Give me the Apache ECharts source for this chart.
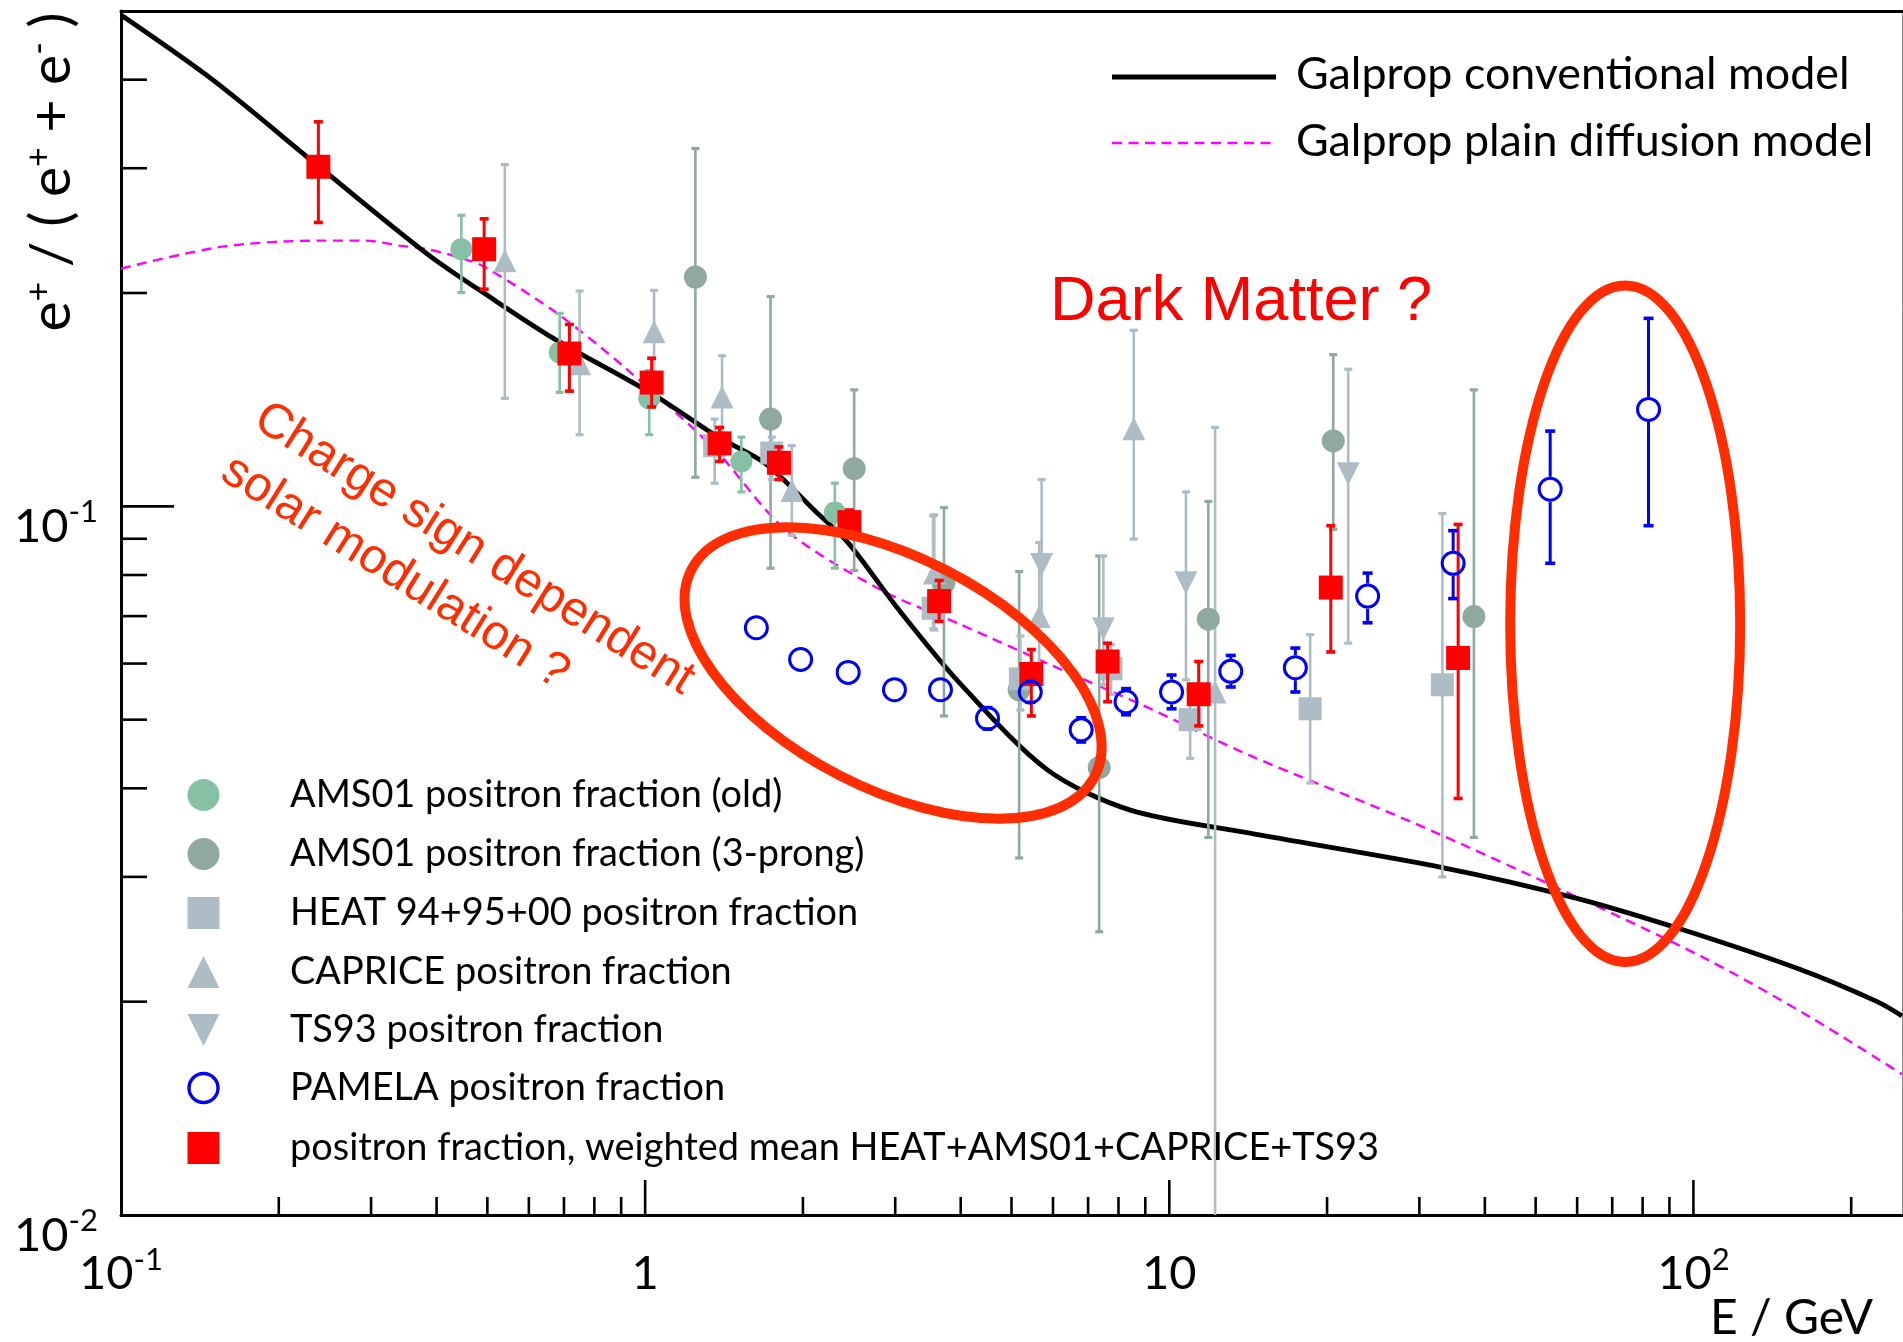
<!DOCTYPE html>
<html>
<head>
<meta charset="utf-8">
<title>Positron fraction</title>
<script src="https://cdn.jsdelivr.net/npm/echarts@6/dist/echarts.min.js"></script>
<style>
html,body{margin:0;padding:0;background:#ffffff;}
#chart{width:1903px;height:1342px;}
</style>
</head>
<body>
<div id="chart"></div>
<script>
// ---------------- model curves ----------------
const convE  = [0.1, 0.1501, 0.2388, 0.3842, 0.504, 0.6721, 1.029, 1.38, 1.698, 2.113, 2.44, 3.019, 3.983, 5.846, 8.398, 14.16, 33.38, 59.65, 94.82, 158.1, 223.6, 250];
const convF  = [0.4934, 0.399, 0.3015, 0.227, 0.1977, 0.1722, 0.1443, 0.1252, 0.1148, 0.0984, 0.0888, 0.0721, 0.0563, 0.0425, 0.0373, 0.0346, 0.0309, 0.028, 0.0253, 0.02227, 0.02002, 0.0191];
const plainE = [0.1, 0.1561, 0.2403, 0.2927, 0.3398, 0.3842, 0.4508, 0.4959, 0.6792, 0.9106, 1.357, 1.849, 2.818, 3.983, 6.265, 9.0, 14.16, 29.37, 59.97, 105.5, 166.8, 250];
const plainF = [0.2165, 0.2325, 0.2371, 0.2371, 0.2333, 0.2306, 0.2235, 0.2174, 0.1872, 0.1574, 0.1204, 0.0928, 0.0762, 0.0682, 0.0587, 0.0522, 0.0446, 0.0357, 0.0281, 0.023, 0.01903, 0.0158];

// ---------------- measurements (E, value, lower, upper) ----------------
const oldE  = [0.446, 0.687, 1.018, 1.526, 2.301];
const oldF  = [0.2306, 0.1649, 0.1420, 0.1157, 0.0980];
const oldLo = [0.2003, 0.1448, 0.1262, 0.1048, 0.0818];
const oldHi = [0.2575, 0.1872, 0.1555, 0.1252, 0.1078];

const prE  = [1.247, 1.735, 2.505, 3.716, 5.171, 7.35, 11.87, 20.55, 38.12];
const prF  = [0.2106, 0.1328, 0.1130, 0.0780, 0.0551, 0.0428, 0.0693, 0.1237, 0.0699];
const prLo = [0.1099, 0.0818, 0.0812, 0.0506, 0.0319, 0.0251, 0.0341, 0.0928, 0.0341];
const prHi = [0.3199, 0.1977, 0.1460, 0.0996, 0.0809, 0.0851, 0.1016, 0.1637, 0.1460];

const heatE  = [1.357, 1.744, 3.543, 5.199, 7.744, 10.96, 18.57, 33.19];
const heatF  = [0.1218, 0.1189, 0.0718, 0.0571, 0.0590, 0.0500, 0.0518, 0.0560];
const heatLo = [0.1078, 0.1091, 0.0672, 0.0516, 0.0543, 0.0441, 0.0407, 0.0300];
const heatHi = [0.1328, 0.1252, 0.0969, 0.0656, 0.0638, 0.0551, 0.0659, 0.0977];

const capE  = [0.540, 0.7497, 1.040, 1.402, 1.905, 3.562, 5.646, 8.556, 12.23];
const capF  = [0.2221, 0.1589, 0.1764, 0.1426, 0.1053, 0.0805, 0.0699, 0.1287, 0.0547];
const capLo = [0.1420, 0.1262, 0.1409, 0.1227, 0.0910, 0.0669, 0.0569, 0.0899, 0.009];
const capHi = [0.3036, 0.2013, 0.2017, 0.1631, 0.1218, 0.0973, 0.0889, 0.1772, 0.1292];

const tsE  = [5.707, 7.486, 10.76, 21.95];
const tsF  = [0.0828, 0.0672, 0.0780, 0.1112];
const tsLo = [0.0693, 0.0560, 0.0569, 0.0641];
const tsHi = [0.1091, 0.0851, 0.1048, 0.1561];

const pamE  = [1.63, 1.98, 2.44, 2.99, 3.66, 4.50, 5.43, 6.79, 8.27, 10.1, 13.1, 17.4, 23.9, 34.8, 53.3, 82.1];
const pamF  = [0.0674, 0.0608, 0.0583, 0.0551, 0.0551, 0.0502, 0.0547, 0.0484, 0.0530, 0.0547, 0.0585, 0.0592, 0.0747, 0.0831, 0.1057, 0.1370];
const pamLo = [0.0664, 0.0599, 0.0575, 0.0544, 0.0544, 0.0485, 0.0529, 0.0465, 0.0508, 0.0518, 0.0556, 0.0547, 0.0685, 0.0741, 0.0831, 0.0939];
const pamHi = [0.0684, 0.0617, 0.0591, 0.0558, 0.0558, 0.0520, 0.0566, 0.0503, 0.0553, 0.0578, 0.0616, 0.0631, 0.0805, 0.0924, 0.1277, 0.1842];

const wmE  = [0.238, 0.493, 0.717, 1.029, 1.387, 1.800, 2.453, 3.638, 5.455, 7.627, 11.38, 20.33, 35.57];
const wmF  = [0.3014, 0.2306, 0.1643, 0.1495, 0.1227, 0.1152, 0.0950, 0.0735, 0.0580, 0.0604, 0.0543, 0.0768, 0.0611];
const wmLo = [0.2515, 0.2025, 0.1454, 0.1381, 0.1157, 0.1091, 0.0906, 0.0688, 0.0506, 0.0530, 0.0490, 0.0623, 0.0387];
const wmHi = [0.3488, 0.2545, 0.1806, 0.1618, 0.1292, 0.1213, 0.0988, 0.0786, 0.0628, 0.0641, 0.0604, 0.0939, 0.0943];

// ---------------- axes / ticks / labels ----------------
const X_MIN = 0.1, X_MAX = 250, Y_MIN = 0.01, Y_MAX = 0.5;
const xMajorTicks = [1, 10, 100];
const xMinorTicks = [0.2,0.3,0.4,0.5,0.6,0.7,0.8,0.9, 2,3,4,5,6,7,8,9, 20,30,40,50,60,70,80,90, 200];
const yMajorTicks = [0.1];
const yMinorTicks = [0.02,0.03,0.04,0.05,0.06,0.07,0.08,0.09, 0.2,0.3,0.4];
const xTickLabels = {'-1': '{b|10}{s|-1}', '0': '{b|1}', '1': '{b|10}', '2': '{b|10}{s|2}'};
const yTickLabels = {'-2': '{b|10}{s|-2}', '-1': '{b|10}{s|-1}'};

const legendLines = ['Galprop conventional model', 'Galprop plain diffusion model'];
const legendPoints = ['AMS01 positron fraction (old)', 'AMS01 positron fraction (3-prong)', 'HEAT 94+95+00 positron fraction',
  'CAPRICE positron fraction', 'TS93 positron fraction', 'PAMELA positron fraction',
  'positron fraction, weighted mean HEAT+AMS01+CAPRICE+TS93'];

// ---------------- styles ----------------
const C_MINT = '#86c1a5', C_SAGE = '#8fa8a0', C_SLATE = '#aebcc6', C_BLUE = '#0000ff', C_RED = '#ff0000', C_ANN = '#ff2d00';
const MYR = 'Lato', ARIAL = '"Liberation Sans", Arial, sans-serif';

const _ctx = document.createElement('canvas').getContext('2d');
function fitSize(text, family, target) { _ctx.font = '100px ' + family; return 100 * target / _ctx.measureText(text).width; }

function zip2(E, F) { return E.map((e, i) => [e, F[i]]); }
function zip4(E, F, L, H) { return E.map((e, i) => [e, F[i], L[i], H[i]]); }

function errorBars(data, color, lw, capW, gapR, z) {
  return {
    type: 'custom', silent: true, z: z, data: data, encode: {x: 0, y: 1},
    renderItem: function (params, api) {
      const x = api.value(0), y = api.value(1);
      let lo = api.value(2), hi = api.value(3);
      const loClip = lo < Y_MIN, hiClip = hi > Y_MAX;
      lo = Math.max(lo, Y_MIN); hi = Math.min(hi, Y_MAX);
      const p = api.coord([x, y]), pl = api.coord([x, lo]), ph = api.coord([x, hi]);
      const st = {stroke: color, lineWidth: lw};
      const ch = [];
      if (gapR > 0) {
        if (p[1] - gapR > ph[1]) ch.push({type: 'line', shape: {x1: p[0], y1: ph[1], x2: p[0], y2: p[1] - gapR}, style: st});
        if (p[1] + gapR < pl[1]) ch.push({type: 'line', shape: {x1: p[0], y1: p[1] + gapR, x2: p[0], y2: pl[1]}, style: st});
      } else {
        ch.push({type: 'line', shape: {x1: p[0], y1: ph[1], x2: p[0], y2: pl[1]}, style: st});
      }
      const cs = {stroke: color, lineWidth: lw + 0.6};
      const minOff = gapR * 0.6;
      if (!hiClip && p[1] - ph[1] > minOff) ch.push({type: 'line', shape: {x1: p[0] - capW / 2, y1: ph[1], x2: p[0] + capW / 2, y2: ph[1]}, style: cs});
      if (!loClip && pl[1] - p[1] > minOff) ch.push({type: 'line', shape: {x1: p[0] - capW / 2, y1: pl[1], x2: p[0] + capW / 2, y2: pl[1]}, style: cs});
      return {type: 'group', children: ch};
    }
  };
}
function markers(data, symbol, size, itemStyle, z) {
  return {type: 'scatter', silent: true, z: z, data: data.map(d => [d[0], d[1]]), symbol: symbol, symbolSize: size,
    itemStyle: Object.assign({opacity: 1}, itemStyle)};
}
function tickSeries(values, major, isX) {
  return {
    type: 'custom', silent: true, z: 20,
    data: values.map(v => isX ? [v, Y_MIN] : [X_MIN, v]), encode: {x: 0, y: 1},
    renderItem: function (params, api) {
      const p = api.coord([api.value(0), api.value(1)]);
      const len = isX ? (major ? 35 : 18) : (major ? 53 : 26);
      const shape = isX ? {x1: p[0], y1: p[1], x2: p[0], y2: p[1] - len} : {x1: p[0], y1: p[1], x2: p[0] + len, y2: p[1]};
      return {type: 'line', shape: shape, style: {stroke: '#000', lineWidth: 2.6}};
    }
  };
}

const tickRich = {
  b: {fontFamily: MYR, fontSize: 47, lineHeight: 60, color: '#000'},
  s: {fontFamily: MYR, fontSize: 31, lineHeight: 17, verticalAlign: 'top', color: '#000'}
};
function lgKey(v) { const l = Math.log10(v); const r = Math.round(l); return Math.abs(l - r) < 1e-6 ? String(r) : null; }

const DOWN_TRI = 'path://M0,0L10,0L5,10Z';

const dOld = zip4(oldE, oldF, oldLo, oldHi), dPr = zip4(prE, prF, prLo, prHi), dHeat = zip4(heatE, heatF, heatLo, heatHi),
      dCap = zip4(capE, capF, capLo, capHi), dTs = zip4(tsE, tsF, tsLo, tsHi), dPam = zip4(pamE, pamF, pamLo, pamHi),
      dWm = zip4(wmE, wmF, wmLo, wmHi);

const chart = echarts.init(document.getElementById('chart'), null, {renderer: 'canvas'});
const option = {
  animation: false,
  backgroundColor: '#ffffff',
  grid: {left: 121, right: 1, top: 11, bottom: 127, containLabel: false},
  xAxis: [{
    type: 'log', logBase: 10, min: X_MIN, max: X_MAX, position: 'bottom',
    axisLine: {show: true, lineStyle: {color: '#000', width: 3}},
    axisTick: {show: false}, splitLine: {show: false}, minorTick: {show: false},
    axisLabel: {margin: 29, showMaxLabel: false, rich: tickRich,
      formatter: v => { const k = lgKey(v); return k !== null && xTickLabels[k] ? xTickLabels[k] : ''; }}
  }, {
    type: 'log', logBase: 10, min: X_MIN, max: X_MAX, position: 'top',
    axisLine: {show: true, lineStyle: {color: '#000', width: 3}},
    axisTick: {show: false}, axisLabel: {show: false}, splitLine: {show: false}
  }],
  yAxis: [{
    type: 'log', logBase: 10, min: Y_MIN, max: Y_MAX, position: 'left',
    axisLine: {show: true, lineStyle: {color: '#000', width: 3}},
    axisTick: {show: false}, splitLine: {show: false},
    axisLabel: {margin: 23, showMaxLabel: false, rich: tickRich, verticalAlign: 'middle', padding: [41, 0, 0, 0],
      formatter: v => { const k = lgKey(v); return k !== null && yTickLabels[k] ? yTickLabels[k] : ''; }}
  }, {
    type: 'log', logBase: 10, min: Y_MIN, max: Y_MAX, position: 'right',
    axisLine: {show: true, lineStyle: {color: '#8a8a8a', width: 1}},
    axisTick: {show: false}, axisLabel: {show: false}, splitLine: {show: false}
  }],
  series: [
    {type: 'line', silent: true, z: 3, data: zip2(plainE, plainF), symbol: 'none', smooth: 0.3,
      lineStyle: {color: '#ff00ff', width: 2.4, type: [10, 6.5]}},
    {type: 'line', silent: true, z: 3, data: zip2(convE, convF), symbol: 'none', smooth: 0.3,
      lineStyle: {color: '#000000', width: 4.8}},
    errorBars(dOld, C_MINT, 2.6, 8, 0, 4), markers(dOld, 'circle', 22, {color: C_MINT}, 5),
    errorBars(dPr, C_SAGE, 2.6, 8, 0, 4), markers(dPr, 'circle', 23, {color: C_SAGE}, 5),
    errorBars(dHeat, C_SLATE, 2.6, 8, 0, 4), markers(dHeat, 'rect', 23, {color: C_SLATE}, 5),
    errorBars(dCap, C_SLATE, 2.6, 8, 0, 4), markers(dCap, 'triangle', 23, {color: C_SLATE}, 5),
    errorBars(dTs, C_SLATE, 2.6, 8, 0, 4), markers(dTs, DOWN_TRI, 23, {color: C_SLATE}, 5),
    errorBars(dWm, C_RED, 3, 9, 0, 6), markers(dWm, 'rect', 24, {color: C_RED}, 7),
    errorBars(dPam, C_BLUE, 3, 10, 12.5, 8), markers(dPam, 'circle', 22, {color: 'rgba(0,0,0,0)', borderColor: C_BLUE, borderWidth: 3}, 8),
    tickSeries(xMajorTicks, true, true), tickSeries(xMinorTicks, false, true),
    tickSeries(yMajorTicks, true, false), tickSeries(yMinorTicks, false, false)
  ]
};
chart.setOption(option);

// ---------------- annotations & legends ----------------
const px = (e, f) => chart.convertToPixel({xAxisIndex: 0, yAxisIndex: 0}, [e, f]);
const topFont = fitSize(legendLines[1], MYR, 577);
const botFont = fitSize(legendPoints[6], MYR, 1090);
const dmFont = fitSize('Dark Matter ?', ARIAL, 382);
const csFont = fitSize('Charge sign dependent', ARIAL, 508);
const eFont = fitSize('E / GeV', MYR, 163);

function txt(text, x, y, size, family, color, align, extra) {
  return Object.assign({type: 'text', z: 50, silent: true, x: x, y: y,
    style: {text: text, fill: color || '#000', font: size.toFixed(1) + 'px ' + family,
      textAlign: align || 'left', textVerticalAlign: 'middle', verticalAlign: 'middle'}}, extra || {});
}

const G = [];
// top-right legend
G.push({type: 'line', z: 50, silent: true, shape: {x1: 1112, y1: 77, x2: 1276, y2: 77}, style: {stroke: '#000', lineWidth: 5}});
G.push({type: 'line', z: 50, silent: true, shape: {x1: 1112, y1: 143, x2: 1276, y2: 143}, style: {stroke: '#ff00ff', lineWidth: 2.6, lineDash: [10, 6.5]}});
G.push(txt(legendLines[0], 1296, 75, topFont, MYR));
G.push(txt(legendLines[1], 1296, 142, topFont, MYR));

// bottom-left legend
const LX = 203.5, rowsY = [795, 854, 913, 972, 1030, 1088, 1148];
G.push({type: 'circle', z: 50, silent: true, shape: {cx: LX, cy: rowsY[0], r: 16}, style: {fill: C_MINT}});
G.push({type: 'circle', z: 50, silent: true, shape: {cx: LX, cy: rowsY[1], r: 16}, style: {fill: C_SAGE}});
G.push({type: 'rect', z: 50, silent: true, shape: {x: LX - 16, y: rowsY[2] - 16, width: 32, height: 32}, style: {fill: C_SLATE}});
G.push({type: 'polygon', z: 50, silent: true, shape: {points: [[LX, rowsY[3] - 16], [LX + 16, rowsY[3] + 16], [LX - 16, rowsY[3] + 16]]}, style: {fill: C_SLATE}});
G.push({type: 'polygon', z: 50, silent: true, shape: {points: [[LX - 16, rowsY[4] - 16], [LX + 16, rowsY[4] - 16], [LX, rowsY[4] + 16]]}, style: {fill: C_SLATE}});
G.push({type: 'circle', z: 50, silent: true, shape: {cx: LX, cy: rowsY[5], r: 14.5}, style: {fill: 'none', stroke: C_BLUE, lineWidth: 3.4}});
G.push({type: 'rect', z: 50, silent: true, shape: {x: LX - 16, y: rowsY[6] - 16, width: 32, height: 32}, style: {fill: C_RED}});
legendPoints.forEach((t, i) => G.push(txt(t, 290, rowsY[i], botFont, MYR)));

// axis titles
G.push(txt('E / GeV', 1710, 1319, eFont, MYR));
G.push({type: 'text', z: 50, silent: true, x: 52, y: 172, rotation: Math.PI / 2,
  style: {text: '{b|e}{s|+}{b| / ( e}{s|+}{b| + e}{s|-}{b| )}', textAlign: 'center', textVerticalAlign: 'middle', verticalAlign: 'middle',
    rich: {b: {fontFamily: MYR, fontSize: 57, lineHeight: 60, fill: '#000'},
           s: {fontFamily: MYR, fontSize: 34, lineHeight: 29, verticalAlign: 'top', fill: '#000'}}}});

// annotations
G.push(txt('Dark Matter ?', 1050, 303, dmFont, ARIAL, C_RED));
G.push({type: 'text', z: 50, silent: true, x: 275, y: 388, rotation: -32 * Math.PI / 180,
  style: {text: 'Charge sign dependent\nsolar modulation ?', fill: C_ANN, font: csFont.toFixed(1) + 'px ' + ARIAL,
    lineHeight: 62, textAlign: 'left', textVerticalAlign: 'top', verticalAlign: 'top'}});

const e1 = px(2.972, 0.0582), e2 = px(74.1, 0.0683);
G.push({type: 'ellipse', z: 60, silent: true, x: e1[0], y: e1[1], rotation: -27.1 * Math.PI / 180,
  shape: {cx: 0, cy: 0, rx: 226.6, ry: 115.6}, style: {fill: 'none', stroke: C_ANN, lineWidth: 10}});
G.push({type: 'ellipse', z: 60, silent: true, x: e2[0], y: e2[1],
  shape: {cx: 0, cy: 0, rx: 115, ry: 338.3}, style: {fill: 'none', stroke: C_ANN, lineWidth: 10}});

chart.setOption({graphic: {elements: G}});
</script>
</body>
</html>
